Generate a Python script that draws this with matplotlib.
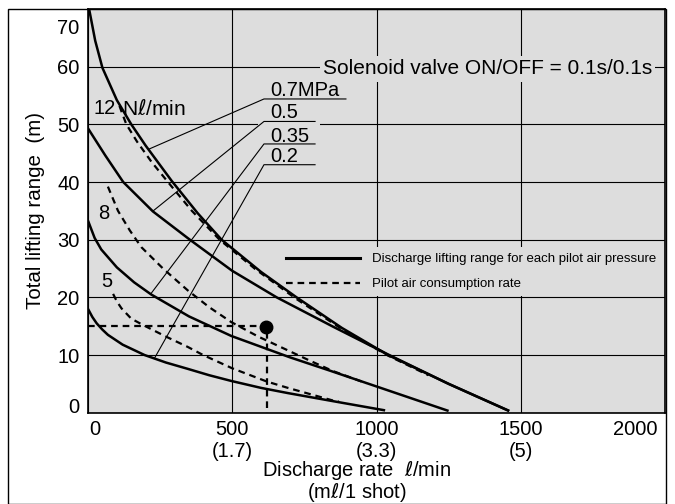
import matplotlib
matplotlib.use("Agg")
from matplotlib import pyplot as plt
from matplotlib.lines import Line2D
from matplotlib.patches import Rectangle
from matplotlib.transforms import ScaledTranslation

plt.rcParams['font.family'] = ['Liberation Sans', 'DejaVu Sans']

# discharge curves for each pilot air pressure (flow l/min, lifting range m)
flow_07 = [0, 25, 50, 100, 150, 200, 290, 380, 463, 600, 723, 880, 1040, 1250, 1460]
head_07 = [71, 64.5, 59.8, 54.2, 50, 46.3, 40.2, 34.6, 30, 24.4, 20, 14.7, 10, 5, 0.3]
flow_05 = [0, 60, 122, 225, 353, 500, 654, 850, 1040, 1250, 1460]
head_05 = [49.3, 44.6, 40, 34.9, 30, 24.6, 20, 14.9, 10.1, 5, 0.3]
flow_035 = [0, 23, 46, 100, 160, 219, 350, 497, 700, 838, 1050, 1250]
head_035 = [33.3, 30.3, 28.3, 25.2, 22.6, 20.5, 16.7, 13.3, 9.6, 7.3, 3.7, 0.3]
flow_02 = [0, 15, 30, 50, 69, 120, 196, 270, 346, 420, 497, 600, 693, 838, 1030]
head_02 = [18, 16.6, 15.5, 14.4, 13.5, 11.8, 10, 8.7, 7.6, 6.5, 5.5, 4.3, 3.4, 2.1, 0.4]

# pilot air consumption rate curves
flow_c12 = [109, 120, 133, 170, 220, 277, 360, 456, 580, 720, 880, 1040, 1180]
head_c12 = [53.2, 51.7, 50, 47.0, 43.5, 40, 35, 30, 24.9, 19.8, 14.5, 9.9, 6.5]
flow_c8 = [69, 104, 145, 185, 260, 346, 420, 497, 590, 693, 770, 850, 965]
head_c8 = [39.2, 35, 31.6, 28.7, 25.0, 21.2, 18.3, 15.7, 13.2, 10.8, 9.0, 7.2, 5.1]
flow_c5 = [87, 100, 116, 150, 191, 270, 346, 399, 500, 620, 693, 850, 870]
head_c5 = [20.6, 19.3, 18.1, 16.3, 15.2, 13.2, 11.4, 10, 7.7, 5.4, 4.3, 2.1, 1.9]

# example reading
ex_flow = 618
ex_head = 14.8

# leader labels: text, text y, underline y, underline end x, curve point
press_labels = ['0.7MPa', '0.5', '0.35', '0.2']
press_text_y = [55.0, 51.1, 47.0, 43.4]
press_line_y = [54.4, 50.5, 46.6, 43.0]
press_line_end = [894, 787, 787, 787]
press_pt_x = [211, 226, 219, 231]
press_pt_y = [45.7, 35.0, 20.7, 9.5]

xticks = [0, 500, 1000, 1500, 2000]
xticklabels = ['0', '500\n(1.7)', '1000\n(3.3)', '1500\n(5)', '2000']
yticks = [0, 10, 20, 30, 40, 50, 60, 70]

gray = '#dddddd'

fig = plt.figure(figsize=(6.75, 5.04), dpi=100)
ax = fig.add_axes([88 / 675, (504 - 412.7) / 504, 577 / 675, (412.7 - 9) / 504])
ax.set_facecolor(gray)
ax.set_xlim(0, 2000)
ax.set_ylim(0, 70)
ax.set_axisbelow(True)
ax.grid(True, color='black', lw=0.8)
for s in ax.spines.values():
    s.set_linewidth(1.2)
    s.set_color('black')

ax.set_xticks(xticks)
ax.set_xticklabels(xticklabels, fontsize=14.5)
ax.set_yticks(yticks)
ax.set_yticklabels([str(v) for v in yticks], fontsize=14.5)
ax.tick_params(length=0)
ax.tick_params(axis='x', pad=5)
ax.tick_params(axis='y', pad=6)

# keep the end labels inside the frame
xl = ax.get_xticklabels()
xl[0].set_transform(xl[0].get_transform() + ScaledTranslation(7 / 100, 0, fig.dpi_scale_trans))
xl[-1].set_transform(xl[-1].get_transform() + ScaledTranslation(-7 / 100, 0, fig.dpi_scale_trans))
xl[-1].set_ha('right')
yl = ax.get_yticklabels()
yl[0].set_va('baseline')
yl[-1].set_transform(yl[-1].get_transform() + ScaledTranslation(0, -17 / 100, fig.dpi_scale_trans))

ax.set_xlabel('Discharge rate  $\\ell$/min\n(m$\\ell$/1 shot)', fontsize=14.5, linespacing=0.95)
ax.xaxis.set_label_coords(0.466, -0.115)
ax.set_ylabel('Total lifting range  (m)', fontsize=14.8)
ax.yaxis.set_label_coords(-0.075, 0.5)

solid = dict(color='black', lw=1.8, zorder=6, solid_capstyle='butt')
dash = dict(color='black', lw=1.6, ls=(0, (3, 2.2)), zorder=6)

ax.plot(flow_07, head_07, **solid)
ax.plot(flow_05, head_05, **solid)
ax.plot(flow_035, head_035, **solid)
ax.plot(flow_02, head_02, **solid)
ax.plot(flow_c12, head_c12, **dash)
ax.plot(flow_c8, head_c8, **dash)
ax.plot(flow_c5, head_c5, **dash)

# reading example
ax.plot([0, ex_flow - 28], [ex_head + 0.2, ex_head + 0.2], **dash)
ax.plot([ex_flow + 2, ex_flow + 2], [ex_head - 0.8, 0], **dash)
ax.plot([ex_flow], [ex_head], 'o', color='black', ms=9, zorder=7)

# leader lines
ax.add_patch(Rectangle((589, 48.6), 215, 2.2, fc=gray, ec='none', zorder=1))
for lab, ty, ly, lx, px, py in zip(press_labels, press_text_y, press_line_y,
                                     press_line_end, press_pt_x, press_pt_y):
    ax.plot([px, 610, lx], [py, ly, ly], color='black', lw=0.8, zorder=4)
    ax.text(630, ty, lab, fontsize=14.5, ha='left', va='baseline', zorder=4)

ax.text(20, 52.7, '12', fontsize=14.5, ha='left', va='center', zorder=4)
ax.text(117, 52.7, 'N$\\ell$/min', fontsize=15, ha='left', va='center', zorder=4)
ax.text(35, 34.5, '8', fontsize=14.5, ha='left', va='center', zorder=4)
ax.text(45, 22.8, '5', fontsize=14.5, ha='left', va='center', zorder=4)

ax.text(1384, 59.6, 'Solenoid valve ON/OFF = 0.1s/0.1s', fontsize=15,
        ha='center', va='center', zorder=5,
        bbox=dict(fc=gray, ec='none', pad=2.2))

handles = [Line2D([], [], color='black', lw=2.2),
           Line2D([], [], color='black', lw=1.6, ls=(0, (3, 2.2)))]
leg = ax.legend(handles, ['Discharge lifting range for each pilot air pressure',
                          'Pilot air consumption rate'],
                loc='upper left', bbox_to_anchor=(0.333, 0.41), borderaxespad=0,
                fontsize=9.5, handlelength=5.6, handletextpad=0.9,
                labelspacing=0.95, borderpad=0.45, fancybox=False, framealpha=1,
                facecolor=gray, edgecolor='none')

fig.add_artist(Rectangle((8 / 675, 0.5 / 504), (665.5 - 8) / 675, (504 - 9 - 0.5) / 504,
                         transform=fig.transFigure, fill=False, ec='black', lw=1.0))

fig.savefig('out.png', dpi=100)
